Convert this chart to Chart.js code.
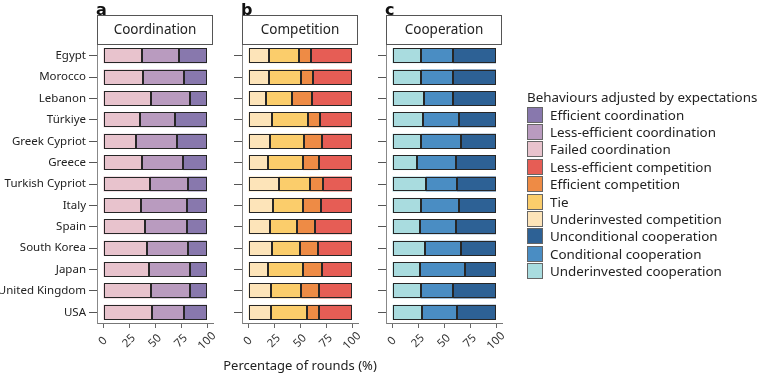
<!DOCTYPE html>
<html>
<head>
<meta charset="utf-8">
<script src="https://cdn.jsdelivr.net/npm/chart.js@4/dist/chart.umd.min.js"></script>
<style>
  body { margin: 0; background: #fff; }
  #wrap { position: relative; width: 759px; height: 375px; overflow: hidden; font-family: "Noto Sans", sans-serif; }
  #wrap canvas { position: absolute; left: 0; top: 0; }
  #legend { position: absolute; left: 527px; top: 88px; font-size: 13.4px; color: #222; white-space: nowrap; }
  #legend .title { height: 18px; line-height: 18px; }
  #legend .item { height: 17.4px; display: flex; align-items: center; }
  #legend .sw { width: 14px; height: 14px; border: 1px solid #666; margin-right: 7px; }
</style>
</head>
<body>
<div id="wrap">
  <canvas id="chartA" width="759" height="375"></canvas>
  <canvas id="chartB" width="759" height="375"></canvas>
  <canvas id="chartC" width="759" height="375"></canvas>
  <div id="legend"></div>
</div>
<script>
const countries = ['Egypt', 'Morocco', 'Lebanon', 'Türkiye', 'Greek Cypriot', 'Greece', 'Turkish Cypriot',
  'Italy', 'Spain', 'South Korea', 'Japan', 'United Kingdom', 'USA'];
const xTicks = [0, 25, 50, 75, 100];

// Coordination (%)
const failedCoordination = [37.3, 38.2, 46.5, 35.4, 32.2, 37.6, 44.9, 36.6, 40.1, 42.0, 43.9, 46.5, 47.5];
const lessEfficientCoordination = [35.3, 39.8, 37.3, 34.3, 39.1, 39.5, 36.6, 44.3, 40.8, 39.8, 40.2, 37.6, 30.5];
const efficientCoordination = [27.4, 22.0, 16.2, 30.3, 28.7, 22.9, 18.5, 19.1, 19.1, 18.2, 15.9, 15.9, 22.0];

// Competition (%)
const underinvestedCompetition = [20.2, 20.5, 17.0, 23.1, 20.8, 19.6, 29.5, 23.7, 21.2, 22.8, 18.9, 22.1, 22.4];
const tie = [28.5, 30.1, 25.0, 34.3, 32.7, 33.0, 29.8, 28.9, 25.6, 26.9, 33.7, 29.2, 34.3];
const efficientCompetition = [11.6, 11.9, 19.2, 11.5, 17.7, 15.3, 12.5, 17.3, 17.3, 17.3, 18.2, 16.6, 11.2];
const lessEfficientCompetition = [39.7, 37.5, 38.8, 31.1, 28.8, 32.1, 28.2, 30.1, 35.9, 33.0, 29.2, 32.1, 32.1];

// Cooperation (%)
const underinvestedCooperation = [28.1, 27.8, 30.7, 30.0, 28.1, 24.3, 32.3, 28.1, 26.5, 31.6, 26.5, 27.5, 29.1];
const conditionalCooperation = [30.4, 30.7, 28.4, 34.2, 38.0, 37.4, 30.0, 36.1, 34.8, 34.9, 43.5, 31.3, 33.2];
const unconditionalCooperation = [41.5, 41.5, 40.9, 35.8, 33.9, 38.3, 37.7, 35.8, 38.7, 33.5, 30.0, 41.2, 37.7];

const colors = {
  'Efficient coordination': '#8878ad',
  'Less-efficient coordination': '#b99bbf',
  'Failed coordination': '#e8c3cd',
  'Less-efficient competition': '#e65d55',
  'Efficient competition': '#ee8b45',
  'Tie': '#fbcd6b',
  'Underinvested competition': '#fde4b9',
  'Unconditional cooperation': '#2d6195',
  'Conditional cooperation': '#4a8dc3',
  'Underinvested cooperation': '#a9dcdf'
};

const PANEL_W = 116;
const PAD = 6;           // space between panel edge and 0 / 100
const TOP = 45, BOTTOM = 323, W = 759, H = 375;

function ds(label, data) {
  return {
    label: label,
    data: data,
    backgroundColor: colors[label],
    borderWidth: 0,
    barPercentage: 0.7,
    categoryPercentage: 1
  };
}

const panelPlugin = {
  id: 'panel',
  afterDatasetsDraw(chart) {
    // crisp 1px outline round every segment, taken from the bar elements
    const ctx = chart.ctx;
    ctx.save();
    ctx.strokeStyle = '#262626';
    ctx.lineWidth = 1;
    chart.data.datasets.forEach((d, i) => {
      chart.getDatasetMeta(i).data.forEach(bar => {
        const p = bar.getProps(['x', 'y', 'base', 'height'], true);
        const x0 = Math.round(Math.min(p.base, p.x));
        const x1 = Math.round(Math.max(p.base, p.x));
        const y0 = Math.round(p.y - p.height / 2);
        const y1 = Math.round(p.y + p.height / 2);
        ctx.strokeRect(x0 + 0.5, y0 + 0.5, x1 - x0 - 1, y1 - y0 - 1);
      });
    });
    ctx.restore();
  },
  afterDraw(chart, args, opts) {
    const ctx = chart.ctx;
    const a = chart.chartArea;
    const xs = chart.scales.x;
    ctx.save();
    // strip
    ctx.fillStyle = '#fff';
    ctx.fillRect(a.left, 15, a.right - a.left, 29);
    ctx.strokeStyle = '#555';
    ctx.lineWidth = 1;
    ctx.strokeRect(a.left + 0.5, 15.5, a.right - a.left - 1, 29);
    ctx.fillStyle = '#222';
    ctx.font = '13.5px "Noto Sans"';
    ctx.textAlign = 'center';
    ctx.textBaseline = 'middle';
    ctx.fillText(opts.title, (a.left + a.right) / 2, 30);
    // panel letter
    ctx.font = 'bold 16px "DejaVu Sans"';
    ctx.textAlign = 'left';
    ctx.textBaseline = 'alphabetic';
    ctx.fillStyle = '#111';
    ctx.fillText(opts.letter, a.left - 1, 15);
    // rotated x tick labels
    ctx.font = '11.5px "Noto Sans"';
    ctx.fillStyle = '#333';
    ctx.textAlign = 'center';
    ctx.textBaseline = 'middle';
    xTicks.forEach(v => {
      const x = xs.getPixelForValue(v);
      ctx.save();
      ctx.translate(x, 341);
      ctx.rotate(-Math.PI / 4);
      ctx.fillText(String(v), 0, 0);
      ctx.restore();
    });
    if (opts.axisTitle) {
      ctx.font = '13px "Noto Sans"';
      ctx.fillStyle = '#222';
      ctx.fillText(opts.axisTitle, (a.left + a.right) / 2, 366);
    }
    ctx.restore();
  }
};

function createPanel(id, panelLeft, datasets, title, letter, showLabels, axisTitle) {
  const yWidth = showLabels ? panelLeft : 12;
  const pxPerUnit = (PANEL_W - 2 * PAD) / 100;
  return new Chart(document.getElementById(id), {
    type: 'bar',
    data: { labels: countries, datasets: datasets },
    options: {
      indexAxis: 'y',
      responsive: false,
      animation: false,
      devicePixelRatio: 1,
      layout: {
        padding: {
          left: showLabels ? 0 : panelLeft - yWidth,
          right: W - panelLeft - PANEL_W,
          top: TOP,
          bottom: 0
        }
      },
      plugins: {
        legend: { display: false },
        tooltip: { enabled: false },
        panel: { title: title, letter: letter, axisTitle: axisTitle }
      },
      scales: {
        x: {
          stacked: true,
          min: -PAD / pxPerUnit,
          max: 100 + PAD / pxPerUnit,
          afterBuildTicks: s => { s.ticks = xTicks.map(v => ({ value: v })); },
          afterFit: s => { s.height = H - BOTTOM; },
          ticks: { display: false },
          grid: { drawOnChartArea: false, drawTicks: true, tickLength: 5, color: '#666' },
          border: { display: true, color: '#777', width: 1 }
        },
        y: {
          stacked: true,
          afterFit: s => { s.width = yWidth; },
          ticks: {
            display: showLabels,
            padding: 3,
            color: '#222',
            font: { family: 'Noto Sans', size: 11.5 }
          },
          grid: { drawOnChartArea: false, drawTicks: true, tickLength: 8, color: '#555', offset: false },
          border: { display: true, color: '#888', width: 1 }
        }
      }
    },
    plugins: [panelPlugin]
  });
}

createPanel('chartA', 97, [
  ds('Failed coordination', failedCoordination),
  ds('Less-efficient coordination', lessEfficientCoordination),
  ds('Efficient coordination', efficientCoordination)
], 'Coordination', 'a', true, null);

createPanel('chartB', 242, [
  ds('Underinvested competition', underinvestedCompetition),
  ds('Tie', tie),
  ds('Efficient competition', efficientCompetition),
  ds('Less-efficient competition', lessEfficientCompetition)
], 'Competition', 'b', false, 'Percentage of rounds (%)');

createPanel('chartC', 386, [
  ds('Underinvested cooperation', underinvestedCooperation),
  ds('Conditional cooperation', conditionalCooperation),
  ds('Unconditional cooperation', unconditionalCooperation)
], 'Cooperation', 'c', false, null);

// legend
const legend = document.getElementById('legend');
legend.innerHTML = '<div class="title">Behaviours adjusted by expectations</div>' +
  Object.keys(colors).map(k =>
    `<div class="item"><span class="sw" style="background:${colors[k]}"></span>${k}</div>`
  ).join('');
</script>
</body>
</html>
